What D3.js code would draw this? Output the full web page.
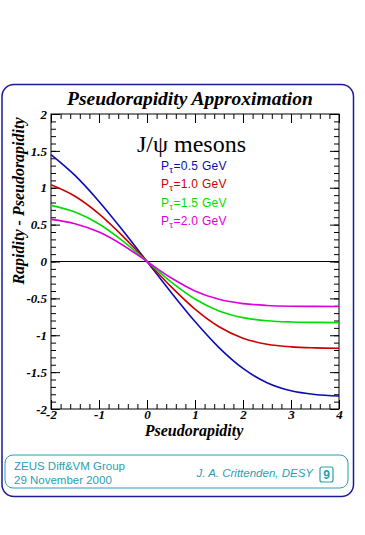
<!DOCTYPE html>
<html lang="en">
<head>
<meta charset="UTF-8">
<title>Pseudorapidity Approximation</title>
<script src="https://d3js.org/d3.v7.min.js"></script>
<style>
    body { margin: 0; background: white; }
    .serif { font-family: "Liberation Serif", "Times New Roman", serif; }
    .bi { font-weight: bold; font-style: italic; }
    .sans { font-family: "Liberation Sans", Arial, sans-serif; }
</style>
</head>
<body>
<div id="chart"></div>
<script>
// pseudorapidity grid
var eta = [-2, -1.5, -1, -0.5, 0, 0.5, 1, 1.5, 2, 2.5, 3, 3.5, 4];

// rapidity - pseudorapidity for each pT
var pt05 = [1.450, 1.167, 0.814, 0.417, 0, -0.417, -0.814, -1.167, -1.450, -1.644, -1.753, -1.803, -1.824];
var pt10 = [1.040, 0.885, 0.646, 0.341, 0, -0.341, -0.646, -0.885, -1.040, -1.121, -1.157, -1.171, -1.177];
var pt15 = [0.761, 0.670, 0.508, 0.275, 0, -0.275, -0.508, -0.670, -0.761, -0.803, -0.820, -0.826, -0.829];
var pt20 = [0.571, 0.513, 0.399, 0.221, 0, -0.221, -0.399, -0.513, -0.571, -0.596, -0.606, -0.609, -0.611];

var seriesNames = ["0.5", "1.0", "1.5", "2.0"];
var seriesColors = ["#0c0cb4", "#cc0000", "#00dd00", "#dd00dd"];

var xTicks = [-2, -1, 0, 1, 2, 3, 4];
var xTickLabels = ["-2", "-1", "0", "1", "2", "3", "4"];
var yTicks = [-2, -1.5, -1, -0.5, 0, 0.5, 1, 1.5, 2];
var yTickLabels = ["-2", "-1.5", "-1", "-0.5", "0", "0.5", "1", "1.5", "2"];

var W = 365, H = 535;
var box = { left: 51, right: 339, top: 114, bottom: 409 };

var svg = d3.select("#chart").append("svg")
    .attr("width", W)
    .attr("height", H);

svg.append("rect").attr("width", W).attr("height", H).attr("fill", "white");

// outer frame
svg.append("rect")
    .attr("x", 2).attr("y", 84.5)
    .attr("width", 351.5).attr("height", 412)
    .attr("rx", 12).attr("ry", 12)
    .attr("fill", "none")
    .attr("stroke", "#1a1a9a")
    .attr("stroke-width", 1.5);

// title
svg.append("text")
    .attr("class", "serif bi")
    .attr("x", 190).attr("y", 105)
    .attr("text-anchor", "middle")
    .attr("font-size", 19.5)
    .text("Pseudorapidity Approximation");

var x = d3.scaleLinear().domain([-2, 4]).range([box.left, box.right]);
var y = d3.scaleLinear().domain([-2, 2]).range([box.bottom, box.top]);

var minorX = d3.range(-2, 4.001, 0.2).map(function(d) { return +d.toFixed(1); });
var minorY = d3.range(-2, 2.001, 0.1).map(function(d) { return +d.toFixed(1); });

function fmt(ticks, labels) {
    return function(d) {
        var i = ticks.indexOf(d);
        return i < 0 ? "" : labels[i];
    };
}

function styleAxis(g) {
    g.select(".domain").remove();
    g.selectAll("line").attr("stroke", "black");
    g.selectAll("text")
        .attr("class", "serif bi")
        .attr("font-size", 13)
        .attr("fill", "black");
}

// minor ticks (all four sides)
svg.append("g").attr("transform", "translate(0," + box.bottom + ")")
    .call(d3.axisBottom(x).tickValues(minorX).tickSize(-5).tickFormat(""))
    .call(styleAxis);
svg.append("g").attr("transform", "translate(0," + box.top + ")")
    .call(d3.axisTop(x).tickValues(minorX).tickSize(-5).tickFormat(""))
    .call(styleAxis);
svg.append("g").attr("transform", "translate(" + box.left + ",0)")
    .call(d3.axisLeft(y).tickValues(minorY).tickSize(-5).tickFormat(""))
    .call(styleAxis);
svg.append("g").attr("transform", "translate(" + box.right + ",0)")
    .call(d3.axisRight(y).tickValues(minorY).tickSize(-5).tickFormat(""))
    .call(styleAxis);

// major ticks
svg.append("g").attr("transform", "translate(0," + box.bottom + ")")
    .call(d3.axisBottom(x).tickValues(xTicks).tickSize(-9).tickPadding(1).tickFormat(fmt(xTicks, xTickLabels)))
    .call(styleAxis);
svg.append("g").attr("transform", "translate(0," + box.top + ")")
    .call(d3.axisTop(x).tickValues(xTicks).tickSize(-9).tickFormat(""))
    .call(styleAxis);
svg.append("g").attr("transform", "translate(" + box.left + ",0)")
    .call(d3.axisLeft(y).tickValues(yTicks).tickSize(-9).tickPadding(4).tickFormat(fmt(yTicks, yTickLabels)))
    .call(styleAxis);
svg.append("g").attr("transform", "translate(" + box.right + ",0)")
    .call(d3.axisRight(y).tickValues(yTicks).tickSize(-9).tickFormat(""))
    .call(styleAxis);

// plot frame
svg.append("rect")
    .attr("x", box.left).attr("y", box.top)
    .attr("width", box.right - box.left).attr("height", box.bottom - box.top)
    .attr("fill", "none").attr("stroke", "black").attr("stroke-width", 1);

// zero line
svg.append("line")
    .attr("x1", x(-2)).attr("x2", x(4))
    .attr("y1", y(0)).attr("y2", y(0))
    .attr("stroke", "black").attr("stroke-width", 1);

// axis titles
svg.append("text")
    .attr("class", "serif bi")
    .attr("x", 194).attr("y", 436)
    .attr("text-anchor", "middle")
    .attr("font-size", 16)
    .text("Pseudorapidity");

svg.append("text")
    .attr("class", "serif bi")
    .attr("transform", "translate(24,201) rotate(-90)")
    .attr("text-anchor", "middle")
    .attr("font-size", 16)
    .text("Rapidity - Pseudorapidity");

// curves
var line = d3.line()
    .x(function(d) { return x(d[0]); })
    .y(function(d) { return y(d[1]); })
    .curve(d3.curveMonotoneX);

[pt05, pt10, pt15, pt20].forEach(function(vals, i) {
    svg.append("path")
        .datum(eta.map(function(e, j) { return [e, vals[j]]; }))
        .attr("d", line)
        .attr("fill", "none")
        .attr("stroke", seriesColors[i])
        .attr("stroke-width", 1.6);
});

// legend
svg.append("text")
    .attr("class", "serif")
    .attr("x", 137).attr("y", 152)
    .attr("font-size", 24)
    .text("J/\u03c8 mesons");

seriesNames.forEach(function(n, i) {
    var t = svg.append("text")
        .attr("class", "sans")
        .attr("x", 161).attr("y", 170 + i * 18.3)
        .attr("font-size", 12)
        .attr("letter-spacing", 0.3)
        .attr("fill", seriesColors[i]);
    t.append("tspan").text("P");
    t.append("tspan").attr("dy", 3).attr("font-size", 9.5).text("\u03c4");
    t.append("tspan").attr("dy", -3).text("=" + n + " GeV");
});

// footer box
var teal = "#2a9fb0";
svg.append("rect")
    .attr("x", 5).attr("y", 455)
    .attr("width", 343).attr("height", 33)
    .attr("rx", 8).attr("ry", 8)
    .attr("fill", "none").attr("stroke", teal).attr("stroke-width", 1);

svg.append("text").attr("class", "sans").attr("x", 14).attr("y", 470)
    .attr("font-size", 11.5).attr("fill", teal).text("ZEUS Diff&VM Group");
svg.append("text").attr("class", "sans").attr("x", 14).attr("y", 484)
    .attr("font-size", 11.5).attr("fill", teal).text("29 November 2000");
svg.append("text").attr("class", "sans").attr("x", 313).attr("y", 477)
    .attr("text-anchor", "end").attr("font-style", "italic")
    .attr("font-size", 11.5).attr("fill", teal).text("J. A. Crittenden, DESY");
svg.append("rect")
    .attr("x", 320).attr("y", 467).attr("width", 13).attr("height", 15)
    .attr("rx", 2).attr("fill", "none").attr("stroke", teal).attr("stroke-width", 1.2);
svg.append("text").attr("class", "sans").attr("x", 326.5).attr("y", 479)
    .attr("text-anchor", "middle").attr("font-weight", "bold")
    .attr("font-size", 12).attr("fill", teal).text("9");
</script>
</body>
</html>
